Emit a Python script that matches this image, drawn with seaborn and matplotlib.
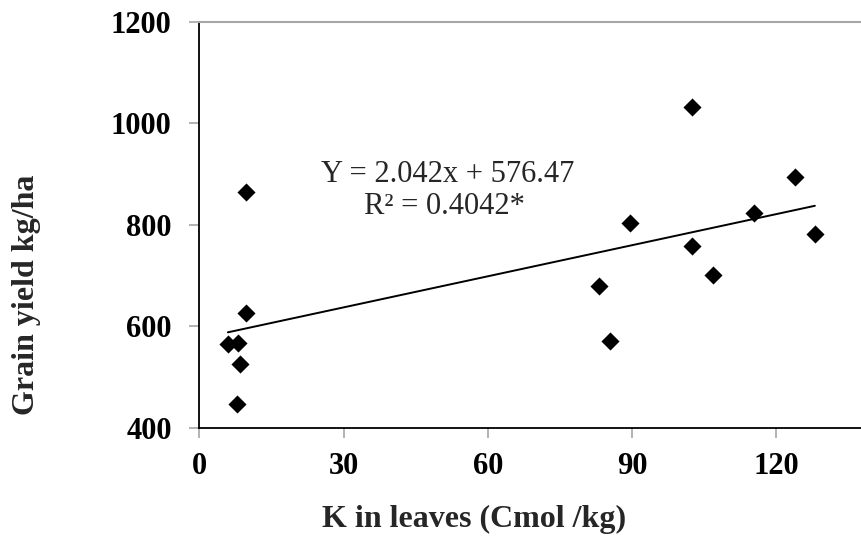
import matplotlib
matplotlib.use("Agg")
import matplotlib.pyplot as plt
import seaborn as sns
import numpy as np
import pandas as pd

# K concentration in leaves (Cmol/kg) and grain yield (kg/ha)
k_leaves = [5.9, 8.1, 8.5, 7.9, 9.6, 9.7, 83.2, 85.4, 89.6, 102.5, 102.5, 106.8, 115.4, 123.9, 128.0]
grain_yield = [566, 567, 526, 447, 627, 865, 679, 572, 803, 1032, 759, 702, 823, 894, 782]

# Linear fit reported on the chart
slope = 2.042
intercept = 576.47
r_squared = 0.4042

x_ticks = [0, 30, 60, 90, 120]
y_ticks = [400, 600, 800, 1000, 1200]

df = pd.DataFrame({"K": k_leaves, "Yield": grain_yield})

sns.set_theme(style="white")
plt.rcParams["font.family"] = ["Liberation Serif", "DejaVu Serif"]

W, H = 862, 536
fig = plt.figure(figsize=(W / 100, H / 100), dpi=100)
ax = fig.add_axes([199.5 / W, (H - 428) / H, (W - 199.5) / W, 406 / H])

sns.scatterplot(data=df, x="K", y="Yield", marker="D", s=85, color="black",
                edgecolor="black", linewidth=0, ax=ax, zorder=3)

# trend line over the range of the observations
xs = np.array([min(k_leaves), max(k_leaves)])
sns.lineplot(x=xs, y=slope * xs + intercept, color="black", linewidth=1.4, ax=ax)

ax.set_xlim(0, 137.8)
ax.set_ylim(400, 1200)
ax.set_xticks(x_ticks)
ax.set_yticks(y_ticks)
ax.set_xticklabels([str(t) for t in x_ticks], fontsize=22, fontweight="bold")
ax.set_yticklabels([str(t) for t in y_ticks], fontsize=22, fontweight="bold")
ax.tick_params(axis="both", direction="out", length=7, width=1.2, color="#a6a6a6",
               bottom=True, left=True, labelcolor="black")
ax.tick_params(axis="x", pad=10)
ax.tick_params(axis="y", pad=13)

ax.spines["right"].set_visible(False)
ax.spines["top"].set_color("#a6a6a6")
ax.spines["top"].set_linewidth(1.5)
for side in ("left", "bottom"):
    ax.spines[side].set_color("black")
    ax.spines[side].set_linewidth(1.3)

ax.set_xlabel("")
ax.set_ylabel("")
fig.text(474.5 / W, (H - 527) / H, "K in leaves (Cmol /kg)", fontsize=23,
         fontweight="bold", ha="center", va="baseline")
fig.text(27 / W, (H - 295) / H, "Grain yield kg/ha", fontsize=23,
         fontweight="bold", ha="center", va="center", rotation=90)

ax.text(51.6, 884, f"Y = {slope}x + {intercept}", fontsize=22, ha="center", va="baseline")
ax.text(50.9, 821.6, f"R² = {r_squared}*", fontsize=22, ha="center", va="baseline")

fig.savefig("out.png", dpi=100, facecolor="white")
